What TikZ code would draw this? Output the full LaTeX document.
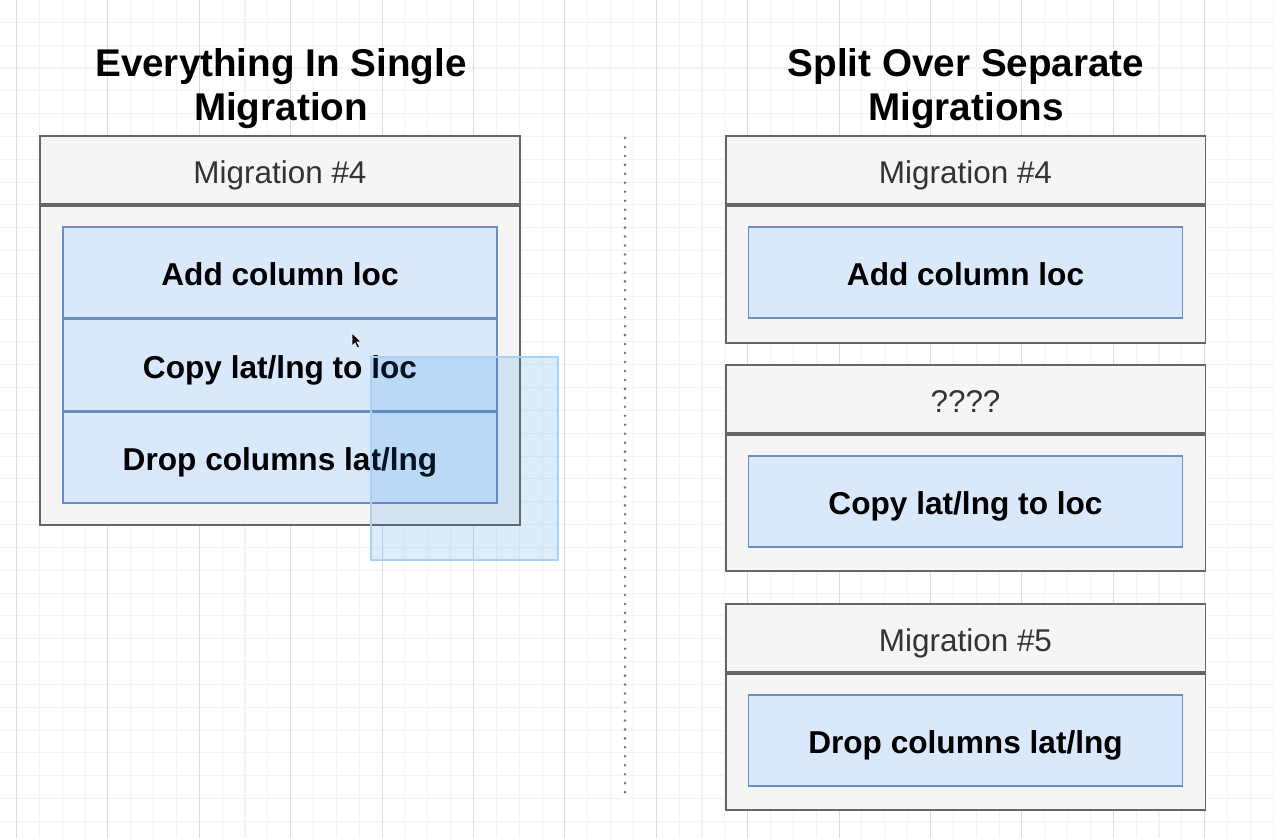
\documentclass[tikz,border=0pt]{standalone}
\usepackage{fontspec}
\setmainfont{Liberation Sans}
\usetikzlibrary{positioning}
\definecolor{boxfill}{HTML}{F5F5F5}
\definecolor{boxline}{HTML}{666666}
\definecolor{bluefill}{HTML}{DAE8FC}
\definecolor{blueline}{HTML}{6C8EBF}
\definecolor{headtext}{HTML}{333333}
\definecolor{gridlight}{HTML}{F3F3F3}
\definecolor{griddark}{HTML}{DADADA}
\definecolor{selblue}{HTML}{1482E0}
\definecolor{selline}{HTML}{A8D1F2}
\definecolor{dotgray}{HTML}{707070}

\begin{document}
\begin{tikzpicture}[x=0.02cm,y=-0.02cm,
  headbox/.style={draw=boxline,fill=boxfill,line width=1.1pt,minimum width=9.6cm,minimum height=1.36cm,
    text=headtext,font=\fontsize{17.9}{20}\selectfont,inner sep=0pt,text height=16.1pt,text depth=1.1pt},
  bodybox/.style={draw=boxline,fill=boxfill,line width=1.1pt,minimum width=9.6cm,inner sep=0pt},
  cell/.style={draw=blueline,fill=bluefill,line width=0.85pt,minimum width=8.68cm,minimum height=1.82cm,
    font=\bfseries\fontsize{18}{21}\selectfont,inner sep=0pt,text height=16.2pt,text depth=1.1pt},
  title/.style={font=\bfseries\fontsize{22}{25}\selectfont,align=center}]
\useasboundingbox (0,0) rectangle (1274,838);
\fill[white] (0,0) rectangle (1274,838);
% grid
\foreach \i in {0,...,55} \draw[gridlight,line width=0.6pt] ({16.5+\i*22.85},0)--({16.5+\i*22.85},838);
\foreach \i in {1,...,36} \draw[gridlight,line width=0.6pt] (0,{\i*22.83-0.5})--(1274,{\i*22.83-0.5});
\foreach \i in {0,...,13} \draw[griddark,line width=0.6pt] ({16.5+\i*91.4},0)--({16.5+\i*91.4},838);
% divider
\draw[dotgray,line width=1.6pt,line cap=round,dash pattern=on 0pt off 5.1pt] (625,138)--(625,800);

% left side
\node[title] (tleft) at (281,89) {Everything In Single\\Migration};
\node[headbox] (mleft) at (280,170) {Migration \#4};
\node[bodybox,minimum height=6.38cm,below=0pt of mleft] (bleft) {};
\node[cell] (addl) at (280,272.5) {Add column loc};
\node[cell,below=0pt of addl] (copyl) {Copy lat/lng to loc};
\node[cell,below=0pt of copyl] (dropl) {Drop columns lat/lng};
% selection and pointer
\fill[selblue,fill opacity=0.15] (371,357) rectangle (558,560);
\draw[selline,line width=0.6pt] (371,357) rectangle (558,560);
\fill[black,draw=white,line width=0.3pt] (352,333)--(352,346)--(355,343)--(357.5,348)--(359.5,347)--(357,342)--(361,342)--cycle;

% right side
\node[title] (tright) at (966,89) {Split Over Separate\\Migrations};
\node[headbox] (mfour) at (965.5,170) {Migration \#4};
\node[bodybox,minimum height=2.74cm,below=0pt of mfour] (bfour) {};
\node[cell] (addr) at (965.5,272.5) {Add column loc};
\node[headbox] (mq) at (965.5,399) {????};
\node[bodybox,minimum height=2.72cm,below=0pt of mq] (bq) {};
\node[cell] (copyr) at (965.5,501.5) {Copy lat/lng to loc};
\node[headbox] (mfive) at (965.5,638) {Migration \#5};
\node[bodybox,minimum height=2.72cm,below=0pt of mfive] (bfive) {};
\node[cell] (dropr) at (965.5,740.5) {Drop columns lat/lng};
\end{tikzpicture}
\end{document}
